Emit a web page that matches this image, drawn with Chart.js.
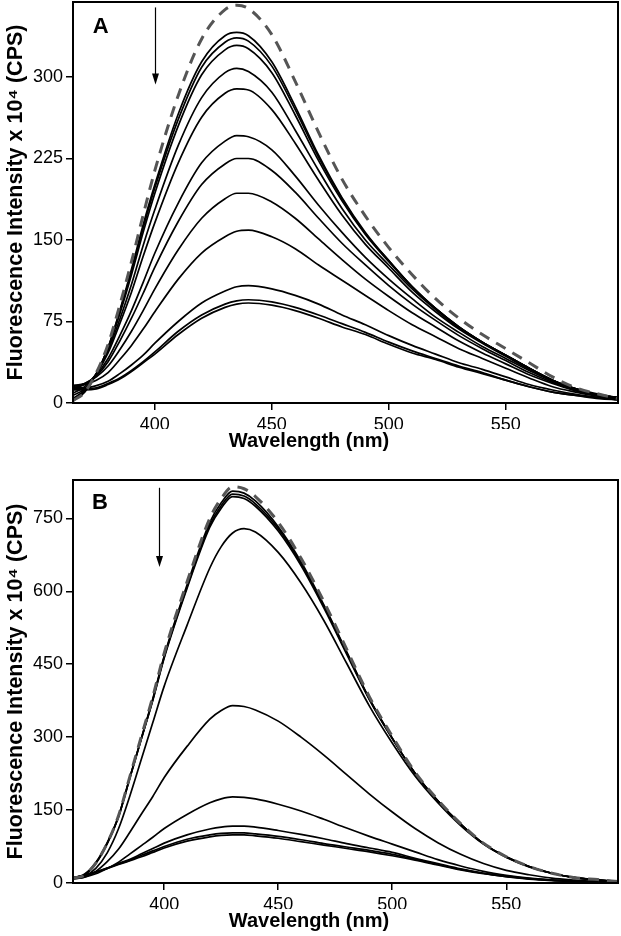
<!DOCTYPE html>
<html>
<head>
<meta charset="utf-8">
<script src="https://cdn.jsdelivr.net/npm/chart.js@4.4.1/dist/chart.umd.min.js"></script>
<style>
    body { margin: 0; background: #fff; }
    #wrap { position: relative; width: 621px; height: 936px; }
    canvas { position: absolute; left: 0; }
    #chartA { top: 0; }
    #chartB { top: 460px; }
</style>
</head>
<body>
<div id="wrap">
    <canvas id="chartA" width="621" height="460"></canvas>
    <canvas id="chartB" width="621" height="476"></canvas>
</div>
<script>
// Panel A
const wavelengthsA = [365, 370, 375, 380, 385, 390, 395, 400, 410, 420, 430, 435, 440, 450, 460, 470, 480, 490, 500, 510, 520, 530, 540, 550, 560, 570, 580, 590, 598];
const xTicksA = [400, 450, 500, 550];
const yTicksA = [0, 75, 150, 225, 300];
const dashedA = [2, 10, 28, 54, 90, 130, 173, 214, 283, 335, 362, 366, 363, 339, 296, 249, 206, 172, 143, 118, 96, 78, 63, 50, 37, 24, 14, 8, 4];
const a1 = [2, 10, 27, 51, 85, 123, 164, 201, 266, 314, 338, 341, 338, 314, 273, 228, 189, 157, 131, 107, 87, 70, 56, 44, 32, 21, 12, 7, 4];
const a2 = [3, 11, 27, 51, 84, 121, 161, 198, 261, 309, 332, 336, 333, 310, 270, 226, 188, 156, 131, 107, 87, 70, 56, 44, 32, 21, 12, 7, 4];
const a3 = [4, 12, 27, 50, 82, 118, 157, 193, 255, 302, 325, 329, 326, 304, 265, 223, 186, 155, 130, 107, 87, 70, 56, 44, 32, 21, 13, 7, 4];
const a4 = [7, 13, 27, 48, 77, 109, 145, 178, 237, 281, 304, 308, 305, 286, 251, 214, 179, 150, 127, 105, 86, 69, 56, 44, 32, 21, 13, 7, 5];
const a5 = [9, 15, 27, 46, 73, 102, 135, 166, 221, 263, 285, 289, 288, 270, 239, 205, 173, 146, 124, 102, 84, 68, 55, 43, 31, 21, 13, 7, 5];
const a6 = [14, 17, 26, 41, 62, 85, 111, 138, 184, 221, 241, 246, 245, 233, 209, 182, 157, 134, 114, 96, 79, 65, 52, 41, 30, 20, 13, 8, 5];
const a7 = [15, 18, 25, 38, 57, 78, 101, 125, 167, 201, 220, 225, 225, 214, 194, 170, 147, 127, 108, 91, 76, 62, 50, 39, 28, 19, 12, 7, 5];
const a8 = [16, 18, 24, 34, 49, 66, 85, 105, 141, 170, 188, 193, 193, 185, 170, 151, 132, 114, 98, 83, 70, 57, 46, 36, 26, 18, 11, 7, 5];
const a9 = [16, 17, 21, 28, 40, 53, 68, 84, 114, 138, 153, 158, 159, 153, 142, 127, 113, 99, 85, 72, 61, 50, 41, 32, 23, 15, 10, 6, 4];
const a10 = [14, 14, 16, 20, 27, 35, 44, 55, 75, 92, 103, 107, 108, 105, 99, 91, 81, 72, 62, 53, 45, 37, 31, 24, 17, 12, 8, 5, 3];
const a11 = [13, 13, 14, 18, 23, 30, 38, 47, 66, 81, 91, 94, 95, 93, 88, 81, 73, 65, 56, 48, 41, 34, 28, 21, 15, 10, 7, 5, 3];
const a12 = [12, 12, 13, 17, 22, 29, 37, 45, 63, 78, 88, 91, 92, 90, 85, 78, 70, 63, 54, 46, 40, 33, 27, 21, 15, 10, 7, 4, 3];

// Panel B
const wavelengthsB = [360, 365, 370, 375, 380, 385, 390, 395, 400, 410, 420, 425, 430, 435, 440, 450, 460, 470, 480, 490, 500, 510, 520, 530, 540, 550, 560, 570, 580, 590, 599];
const xTicksB = [400, 450, 500, 550];
const yTicksB = [0, 150, 300, 450, 600, 750];
const dashedB = [10, 16, 41, 82, 139, 220, 302, 383, 473, 619, 750, 791, 815, 811, 795, 742, 668, 579, 481, 383, 302, 228, 171, 122, 82, 54, 34, 20, 11, 7, 3];
const b1 = [10, 16, 40, 81, 137, 218, 298, 379, 467, 613, 742, 782, 806, 802, 786, 733, 661, 572, 476, 379, 298, 226, 169, 121, 81, 53, 34, 20, 11, 6, 3];
const b2 = [11, 17, 41, 81, 137, 217, 297, 377, 465, 609, 736, 776, 800, 796, 780, 729, 657, 570, 474, 378, 298, 226, 169, 121, 81, 54, 34, 20, 11, 6, 3];
const b3 = [11, 18, 42, 83, 138, 218, 297, 376, 463, 606, 732, 771, 795, 791, 775, 724, 653, 566, 471, 377, 297, 226, 169, 121, 81, 54, 34, 20, 11, 7, 3];
const b4 = [10, 14, 30, 62, 112, 180, 255, 330, 405, 530, 648, 692, 720, 729, 722, 680, 617, 540, 452, 364, 288, 220, 165, 118, 80, 53, 33, 20, 11, 6, 3];
const b5 = [9, 12, 24, 44, 70, 105, 142, 178, 217, 281, 337, 355, 365, 363, 356, 333, 300, 263, 223, 183, 146, 112, 83, 59, 40, 26, 17, 10, 6, 3, 2];
const b6 = [8, 12, 19, 30, 43, 60, 77, 94, 112, 141, 165, 173, 177, 176, 173, 162, 148, 131, 113, 96, 80, 64, 48, 35, 24, 16, 10, 6, 4, 2, 1];
const b7 = [10, 15, 22, 30, 40, 49, 60, 71, 82, 99, 111, 115, 117, 117, 115, 108, 100, 91, 81, 72, 63, 51, 40, 29, 20, 14, 9, 6, 4, 2, 1];
const b8 = [10, 16, 23, 31, 39, 47, 57, 66, 75, 90, 99, 102, 103, 103, 101, 96, 89, 81, 74, 67, 59, 49, 38, 28, 20, 13, 9, 6, 4, 2, 1];
const b9 = [10, 16, 22, 30, 38, 46, 54, 63, 72, 86, 95, 98, 99, 99, 97, 92, 85, 78, 71, 64, 56, 47, 37, 27, 19, 13, 8, 5, 3, 2, 1];

const FONT = "'Liberation Sans', Arial, Helvetica, sans-serif";

// box round the plot, panel letter and the arrow
const framePlugin = {
    id: "frame",
    afterDraw(chart, args, opts) {
        const { ctx, chartArea: area, scales } = chart;
        ctx.save();
        ctx.strokeStyle = "#000";
        ctx.fillStyle = "#000";
        ctx.lineWidth = 2;
        ctx.strokeRect(area.left, area.top, area.right - area.left, area.bottom - area.top);

        ctx.font = "bold 22px " + FONT;
        ctx.textAlign = "center";
        ctx.textBaseline = "middle";
        ctx.fillText(opts.letter, scales.x.getPixelForValue(opts.letterAt[0]), scales.y.getPixelForValue(opts.letterAt[1]));

        const ax = Math.round(scales.x.getPixelForValue(opts.arrow[0])) + 0.5;
        const y1 = scales.y.getPixelForValue(opts.arrow[1]);
        const y2 = scales.y.getPixelForValue(opts.arrow[2]);
        ctx.lineWidth = 1.2;
        ctx.beginPath();
        ctx.moveTo(ax, y1);
        ctx.lineTo(ax, y2 - 8);
        ctx.stroke();
        ctx.beginPath();
        ctx.moveTo(ax, y2);
        ctx.lineTo(ax - 3.5, y2 - 11);
        ctx.lineTo(ax + 3.5, y2 - 11);
        ctx.closePath();
        ctx.fill();
        ctx.restore();
    }
};

function makeChart(id, wavelengths, dashed, solids, cfg) {
    const toPoints = (vals) => vals.map((v, i) => ({ x: wavelengths[i], y: v }));
    const datasets = [{
        data: toPoints(dashed),
        borderColor: "#555",
        borderWidth: 3,
        borderDash: [11, 8]
    }];
    solids.forEach(s => datasets.push({ data: toPoints(s), borderColor: "#000", borderWidth: 1.7 }));

    const ctx = document.getElementById(id).getContext("2d");
    return new Chart(ctx, {
        type: "line",
        data: { datasets: datasets },
        plugins: [framePlugin],
        options: {
            responsive: false,
            animation: false,
            devicePixelRatio: 1,
            parsing: false,
            layout: { padding: { top: cfg.padTop, right: 3, left: 0, bottom: 0 } },
            elements: {
                point: { radius: 0 },
                line: { cubicInterpolationMode: "monotone", fill: false }
            },
            plugins: {
                legend: { display: false },
                tooltip: { enabled: false },
                title: {
                    display: true,
                    position: "bottom",
                    text: "Wavelength (nm)",
                    color: "#000",
                    font: { family: FONT, size: 20, weight: "bold" },
                    padding: { top: 0, bottom: cfg.titlePadBottom }
                },
                frame: cfg.frame
            },
            scales: {
                x: {
                    type: "linear",
                    min: cfg.xMin,
                    max: cfg.xMax,
                    afterBuildTicks: axis => { axis.ticks = cfg.xTicks.map(v => ({ value: v })); },
                    afterFit: scale => {
                        scale.height = 26;
                        scale.paddingLeft = 0;
                        scale.paddingRight = 0;
                    },
                    grid: { drawOnChartArea: false, drawTicks: true, tickLength: 7, color: "#000", lineWidth: 1.5 },
                    border: { color: "#000", width: 2 },
                    ticks: { color: "#000", padding: 4, font: { family: FONT, size: 18 }, maxRotation: 0 }
                },
                y: {
                    min: 0,
                    max: cfg.yMax,
                    afterBuildTicks: axis => { axis.ticks = cfg.yTicks.map(v => ({ value: v })); },
                    afterFit: scale => {
                        scale.width = 73;
                        scale.paddingTop = 0;
                        scale.paddingBottom = 0;
                    },
                    grid: { drawOnChartArea: false, drawTicks: true, tickLength: 7, color: "#000", lineWidth: 1.5 },
                    border: { color: "#000", width: 2 },
                    ticks: { color: "#000", padding: 3, font: { family: FONT, size: 18 } },
                    title: {
                        display: true,
                        text: "Fluorescence Intensity x 10\u2074 (CPS)",
                        color: "#000",
                        font: { family: FONT, size: 21.5, weight: "bold" },
                        padding: { top: 3, bottom: 0 }
                    }
                }
            }
        }
    });
}

document.addEventListener("DOMContentLoaded", function () {
    makeChart("chartA", wavelengthsA, dashedA, [a1, a2, a3, a4, a5, a6, a7, a8, a9, a10, a11, a12], {
        padTop: 2, titlePadBottom: 7,
        xMin: 365, xMax: 598, yMax: 369,
        xTicks: xTicksA, yTicks: yTicksA,
        frame: { letter: "A", letterAt: [376.8, 346], arrow: [400, 364, 293] }
    });

    makeChart("chartB", wavelengthsB, dashedB, [b1, b2, b3, b4, b5, b6, b7, b8, b9], {
        padTop: 20, titlePadBottom: 3,
        xMin: 360, xMax: 599, yMax: 829,
        xTicks: xTicksB, yTicks: yTicksB,
        frame: { letter: "B", letterAt: [371.8, 781], arrow: [397.7, 813, 650] }
    });
});
</script>
</body>
</html>
